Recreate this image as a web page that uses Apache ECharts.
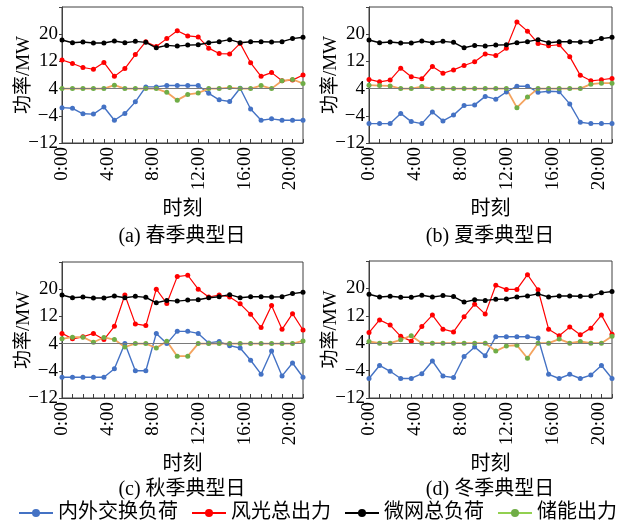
<!DOCTYPE html>
<html>
<head>
<meta charset="utf-8">
<script src="https://cdn.jsdelivr.net/npm/echarts@6/dist/echarts.min.js"></script>
<style>
  html, body { margin: 0; padding: 0; background: #ffffff; }
  #chart { width: 622px; height: 526px; }
</style>
</head>
<body>
<div id="chart"></div>
<script>
// Hourly categories (24 points per typical day)
const hours = ['0:00','1:00','2:00','3:00','4:00','5:00','6:00','7:00','8:00','9:00','10:00','11:00',
               '12:00','13:00','14:00','15:00','16:00','17:00','18:00','19:00','20:00','21:00','22:00','23:00'];
const tickLabels = ['0:00','4:00','8:00','12:00','16:00','20:00'];

const seriesNames = ['内外交换负荷', '风光总出力', '微网总负荷', '储能出力'];
const panelTitles = ['(a) 春季典型日', '(b) 夏季典型日', '(c) 秋季典型日', '(d) 冬季典型日'];

// Microgrid total load (MW), same profile every season
const microgridLoad = [18.3, 17.5, 17.7, 17.4, 17.4, 18.0, 17.5, 17.9, 17.6, 16.0, 16.7, 16.5,
                       16.8, 16.9, 17.5, 17.8, 18.4, 17.5, 17.8, 17.8, 17.7, 17.8, 18.7, 19.1];

// Spring
const exchangeSpring = [-1.6, -1.8, -3.4, -3.5, -1.4, -5.3, -3.3, 0.1, 4.5, 4.5, 4.9, 4.9,
                        4.9, 4.9, 2.6, 0.7, 0.2, 4.1, -2.0, -5.3, -4.9, -5.3, -5.3, -5.3];
const renewSpring = [12.4, 11.4, 10.2, 9.7, 11.7, 7.6, 9.9, 14.0, 17.8, 16.4, 18.7, 21.0,
                     19.5, 19.2, 15.9, 14.3, 14.2, 17.3, 11.6, 7.6, 8.7, 6.3, 6.5, 8.0];
const storageSpring = [4, 4, 4, 4, 4, 5.0, 4, 4, 4, 4, 2.9, 0.6,
                       2.3, 2.7, 4, 4, 4.3, 4, 4, 4.9, 4, 6.3, 6.7, 5.5];

// Summer
const exchangeSummer = [-6.3, -6.3, -6.3, -3.3, -5.7, -6.3, -2.9, -5.5, -3.8, -1.0, -0.8, 1.7,
                        0.9, 3.0, 4.7, 4.7, 2.9, 3.2, 3.1, -0.5, -5.9, -6.3, -6.3, -6.3];
const renewSummer = [6.7, 6.0, 6.5, 10.0, 7.5, 6.9, 10.5, 8.5, 9.5, 10.8, 11.9, 14.2,
                     13.7, 15.9, 23.6, 20.9, 17.3, 16.6, 16.9, 13.4, 7.9, 6.3, 6.6, 7.0];
const storageSummer = [5.0, 4.9, 4.8, 4, 4, 4.6, 4, 4, 4, 4, 4, 4,
                       4, 4, -1.6, 1.5, 4, 4, 4, 4, 4, 5.3, 5.6, 5.6];

// Autumn
const exchangeAutumn = [-5.9, -5.9, -5.9, -5.9, -5.9, -3.4, 4.0, -4.0, -4.0, 7.0, 4.0, 7.6,
                        7.6, 7.0, 4.2, 4.6, 3.4, 2.7, -0.9, -5.0, 1.8, -5.5, -1.7, -5.9];
const renewAutumn = [7.0, 5.4, 6.0, 7.0, 5.2, 9.1, 18.3, 9.8, 9.3, 20.0, 15.8, 23.7,
                     24.1, 20.0, 17.7, 18.3, 17.7, 15.7, 12.6, 8.7, 15.2, 8.2, 12.8, 8.0];
const storageAutumn = [5.4, 5.9, 5.9, 4.4, 5.8, 5.2, 3.0, 4, 4, 2.7, 4.7, 0.3,
                       0.3, 4, 4, 4, 4, 4, 4, 4, 4, 4, 4, 4.8];

// Winter
const exchangeWinter = [-6.3, -2.5, -4.2, -6.3, -6.3, -4.9, -1.2, -5.6, -6.0, 0.1, 2.9, 0.3,
                        5.9, 5.9, 5.9, 5.9, 5.5, -5.1, -6.3, -5.1, -6.3, -5.3, -2.5, -6.3];
const renewWinter = [7.1, 10.8, 9.3, 6.0, 4.6, 8.9, 12.2, 8.1, 7.3, 11.7, 15.4, 12.5,
                     20.9, 19.7, 19.7, 24.0, 19.6, 8.1, 6.2, 8.7, 6.5, 8.4, 12.2, 6.6];
const storageWinter = [4.5, 4, 4, 5.0, 6.2, 4, 4, 4, 4, 4, 4, 4,
                       1.7, 3.2, 3.4, -0.4, 4, 4, 5.2, 4, 4.5, 4, 4, 6.0];

const panels = [
  { exchange: exchangeSpring, renew: renewSpring, storage: storageSpring },
  { exchange: exchangeSummer, renew: renewSummer, storage: storageSummer },
  { exchange: exchangeAutumn, renew: renewAutumn, storage: storageAutumn },
  { exchange: exchangeWinter, renew: renewWinter, storage: storageWinter }
];

// Plot areas of the 2x2 layout
const gridBoxes = [
  { left: 62,  top: 7,   width: 241, height: 136 },
  { left: 369, top: 7,   width: 243, height: 136 },
  { left: 62,  top: 262, width: 241, height: 136 },
  { left: 369, top: 261, width: 243, height: 137 }
];
const titleCenters = [[182, 237], [490, 237], [182, 490], [490, 490]];

const FONT = "'Liberation Serif', 'Noto Sans CJK SC', serif";
const AXIS_COLOR = '#404040';
const colors = {
  exchange: '#4472c4',
  renew: '#ff0000',
  load: '#000000',
  storageLine: '#f4a35e',
  storageMark: '#70ad47'
};

const grid = [], xAxis = [], yAxis = [], series = [], graphic = [];

panels.forEach((p, i) => {
  grid.push(Object.assign({ show: true, borderColor: AXIS_COLOR, borderWidth: 1, backgroundColor: 'transparent' }, gridBoxes[i]));

  // category axis carrying the data points and the small inner ticks
  xAxis.push({
    type: 'category', gridIndex: i, data: hours, boundaryGap: false,
    axisLine: { onZero: false, lineStyle: { color: AXIS_COLOR, width: 1 } },
    axisTick: { show: true, inside: true, length: 4, interval: 0, lineStyle: { color: AXIS_COLOR } },
    axisLabel: { show: false },
    splitLine: { show: false }
  });
  // time-of-day label axis
  xAxis.push({
    type: 'value', gridIndex: i, position: 'bottom', min: 0, max: 21.1, interval: 4,
    axisLine: { show: false, onZero: false }, axisTick: { show: false }, splitLine: { show: false },
    axisLabel: {
      rotate: 90, margin: 4, fontFamily: FONT, fontSize: 19, color: '#000',
      showMaxLabel: false,
      formatter: v => (v % 4 === 0 && v / 4 < tickLabels.length) ? tickLabels[v / 4] : ''
    },
    name: '时刻', nameLocation: 'middle', nameGap: 57, nameMoveOverlap: false,
    nameTextStyle: { fontFamily: FONT, fontSize: 20, color: '#000' }
  });

  yAxis.push({
    type: 'value', gridIndex: i, min: -12, max: 28, interval: 8,
    axisLine: { show: true, lineStyle: { color: AXIS_COLOR, width: 1 } },
    axisTick: { show: true, inside: false, length: 3, lineStyle: { color: AXIS_COLOR } },
    splitLine: { show: false },
    axisLabel: {
      margin: 4, fontFamily: FONT, fontSize: 19, color: '#000',
      formatter: v => v > 20 ? '' : String(v).replace('-', '\u2212')
    },
    name: '功率/MW', nameLocation: 'middle', nameGap: 28, nameRotate: 90, nameMoveOverlap: false,
    nameTextStyle: { fontFamily: FONT, fontSize: 19, color: '#000' }
  });

  const common = {
    type: 'line', xAxisIndex: 2 * i, yAxisIndex: i,
    symbol: 'circle', symbolSize: 5, showSymbol: true, animation: false
  };
  series.push(Object.assign({}, common, {
    name: seriesNames[0], data: p.exchange,
    lineStyle: { color: colors.exchange, width: 1.4 }, itemStyle: { color: colors.exchange }
  }));
  series.push(Object.assign({}, common, {
    name: seriesNames[1], data: p.renew,
    lineStyle: { color: colors.renew, width: 1.2 }, itemStyle: { color: colors.renew }
  }));
  series.push(Object.assign({}, common, {
    name: seriesNames[2], data: microgridLoad,
    lineStyle: { color: colors.load, width: 1.4 }, itemStyle: { color: colors.load }
  }));
  series.push(Object.assign({}, common, {
    name: seriesNames[3], data: p.storage,
    lineStyle: { color: colors.storageLine, width: 1.8 }, itemStyle: { color: colors.storageMark },
    markLine: {
      silent: true, symbol: 'none', label: { show: false },
      lineStyle: { color: '#7a7a7a', width: 1, type: 'solid' },
      data: [{ yAxis: 4 }]
    }
  }));

  graphic.push({
    type: 'text', x: titleCenters[i][0], y: titleCenters[i][1],
    style: {
      text: panelTitles[i], font: "20px " + FONT, fill: '#000',
      align: 'center', verticalAlign: 'middle'
    }
  });
});

const chart = echarts.init(document.getElementById('chart'), null, { renderer: 'canvas' });
chart.setOption({
  animation: false,
  backgroundColor: '#ffffff',
  grid, xAxis, yAxis, series, graphic,
  legend: {
    left: 18, top: 503, width: 604, padding: 0,
    itemWidth: 34, itemHeight: 10, itemGap: 13,
    textStyle: { fontFamily: FONT, fontSize: 20, color: '#000' },
    data: [
      { name: seriesNames[0] },
      { name: seriesNames[1] },
      { name: seriesNames[2] },
      { name: seriesNames[3], lineStyle: { color: '#92d050' }, itemStyle: { color: '#70ad47' } }
    ]
  }
});
</script>
</body>
</html>
